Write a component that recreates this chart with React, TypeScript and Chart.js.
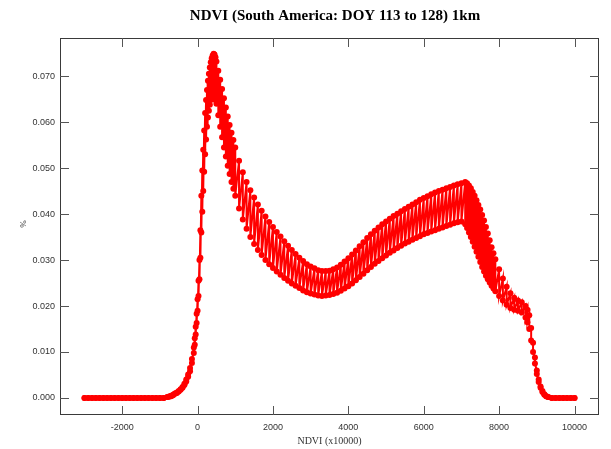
import { useEffect, useRef } from "react";
import { Chart, registerables } from "chart.js";

Chart.register(...registerables);

const TITLE = "NDVI (South America: DOY 113 to 128) 1km";
const X_LABEL = "NDVI (x10000)";
const Y_LABEL = "%";
const X_TICKS = [-2000, 0, 2000, 4000, 6000, 8000, 10000];
const Y_TICKS = [0, 0.01, 0.02, 0.03, 0.04, 0.05, 0.06, 0.07];

const ndvi = [
  -3000, -2900, -2800, -2700, -2600, -2500, -2400, -2300, -2200, -2100,
  -2000, -1900, -1800, -1700, -1600, -1500, -1400, -1300, -1200, -1100,
  -1000, -900,
  -800, -750, -700, -650, -600, -550, -500, -450, -400, -350,
  -300, -250, -200, -150, -100, -75, -50, -25, 0, 25,
  50, 75, 100, 125, 150, 175, 200, 225, 250, 275,
  300, 325, 350, 375, 400, 425, 450, 475, 500, 550,
  600, 650, 700, 750, 800, 850, 900, 950, 1000, 1100,
  1200, 1300, 1400, 1500, 1600, 1700, 1800, 1900, 2000, 2100,
  2200, 2300, 2400, 2500, 2600, 2700, 2800, 2900, 3000, 3100,
  3200, 3300, 3400, 3500, 3600, 3700, 3800, 3900, 4000, 4100,
  4200, 4300, 4400, 4500, 4600, 4700, 4800, 4900, 5000, 5100,
  5200, 5300, 5400, 5500, 5600, 5700, 5800, 5900, 6000, 6100,
  6200, 6300, 6400, 6500, 6600, 6700, 6800, 6900, 7000, 7100,
  7150, 7200, 7250, 7300, 7350, 7400, 7450, 7500, 7550, 7600,
  7650, 7700, 7750, 7800, 7850, 7900, 8000, 8100, 8200, 8300,
  8400, 8500, 8600, 8700, 8750, 8800, 8850, 8900, 8950, 9000,
  9050, 9100, 9150, 9200, 9250, 9300, 9400, 9500, 9600, 9700,
  9800, 9900, 10000,
];

const pctUpper = [
  0, 0, 0, 0, 0, 0, 0, 0, 0, 0,
  0, 0, 0, 0, 0, 0, 0, 0, 0, 0,
  0, 0,
  0.0002, 0.0003, 0.0005, 0.0007, 0.001, 0.0012, 0.0015, 0.0019, 0.0024, 0.0031,
  0.004, 0.0051, 0.0065, 0.0085, 0.011, 0.013, 0.0155, 0.0183, 0.0215, 0.0255,
  0.03, 0.0365, 0.044, 0.0495, 0.054, 0.0582, 0.062, 0.0648, 0.067, 0.069,
  0.0705, 0.0719, 0.073, 0.0739, 0.0745, 0.0749, 0.0747, 0.0741, 0.0732, 0.0712,
  0.0692, 0.0672, 0.0652, 0.0632, 0.0612, 0.0594, 0.0577, 0.0561, 0.0545, 0.0516,
  0.0491, 0.047, 0.0452, 0.0436, 0.0421, 0.0407, 0.0395, 0.0383, 0.0372, 0.0361,
  0.0351, 0.0341, 0.0331, 0.0322, 0.0313, 0.0305, 0.0298, 0.0291, 0.0286, 0.0282,
  0.0278, 0.0276, 0.0276, 0.0277, 0.028, 0.0284, 0.029, 0.0297, 0.0304, 0.0312,
  0.0321, 0.033, 0.0339, 0.0348, 0.0356, 0.0364, 0.0371, 0.0378, 0.0384, 0.039,
  0.0396, 0.0401, 0.0406, 0.0411, 0.0416, 0.0421, 0.0426, 0.0431, 0.0435, 0.0439,
  0.0443, 0.0447, 0.045, 0.0453, 0.0456, 0.0459, 0.0462, 0.0465, 0.0467, 0.047,
  0.0467, 0.0462, 0.0456, 0.0448, 0.044, 0.043, 0.042, 0.041, 0.0398, 0.0386,
  0.0372, 0.0358, 0.0343, 0.0328, 0.0315, 0.0302, 0.028, 0.026, 0.0242, 0.0228,
  0.0218, 0.0212, 0.0208, 0.02, 0.0192, 0.018, 0.0152, 0.012, 0.0088, 0.006,
  0.004, 0.0025, 0.0015, 0.0008, 0.0004, 0.0002, 0, 0, 0, 0,
  0, 0, 0,
];

const pctLower = [
  0, 0, 0, 0, 0, 0, 0, 0, 0, 0,
  0, 0, 0, 0, 0, 0, 0, 0, 0, 0,
  0, 0,
  0.0002, 0.0003, 0.0004, 0.0006, 0.0009, 0.0011, 0.0014, 0.0018, 0.0022, 0.0028,
  0.0036, 0.0046, 0.0058, 0.0076, 0.0098, 0.0116, 0.0138, 0.0163, 0.019, 0.0222,
  0.0258, 0.0305, 0.036, 0.0405, 0.045, 0.0492, 0.053, 0.0562, 0.059, 0.061,
  0.0625, 0.0638, 0.0648, 0.0654, 0.0658, 0.0658, 0.0655, 0.0648, 0.064, 0.0615,
  0.059, 0.0567, 0.0545, 0.0525, 0.0505, 0.0487, 0.047, 0.0455, 0.044, 0.0412,
  0.0388, 0.0368, 0.035, 0.0335, 0.0322, 0.0311, 0.03, 0.0291, 0.0283, 0.0275,
  0.0268, 0.0261, 0.0255, 0.0249, 0.0244, 0.0239, 0.0234, 0.023, 0.0227, 0.0225,
  0.0223, 0.0222, 0.0223, 0.0224, 0.0226, 0.0229, 0.0233, 0.0238, 0.0243, 0.0249,
  0.0256, 0.0263, 0.027, 0.0278, 0.0285, 0.0292, 0.0298, 0.0304, 0.031, 0.0316,
  0.0321, 0.0326, 0.0331, 0.0336, 0.034, 0.0344, 0.0348, 0.0352, 0.0356, 0.0359,
  0.0362, 0.0365, 0.0368, 0.0371, 0.0374, 0.0377, 0.038, 0.0382, 0.0384, 0.0378,
  0.037, 0.036, 0.035, 0.034, 0.0329, 0.0318, 0.0307, 0.0296, 0.0285, 0.0275,
  0.0266, 0.0258, 0.0251, 0.0244, 0.0238, 0.0232, 0.0222, 0.0212, 0.0203, 0.0196,
  0.0192, 0.019, 0.0186, 0.0175, 0.0165, 0.015, 0.0125, 0.01, 0.0075, 0.0052,
  0.0035, 0.0022, 0.0013, 0.0007, 0.0004, 0.0002, 0, 0, 0, 0,
  0, 0, 0,
];

const decorPlugin = {
  id: "decor",
  afterDraw(chart: any) {
    const { ctx, chartArea: a, scales } = chart;
    const xs = scales.x;
    const ys = scales.y;
    ctx.save();
    ctx.strokeStyle = "#3a3a3a";
    ctx.lineWidth = 1;
    ctx.strokeRect(a.left + 0.5, a.top + 0.5, a.right - a.left - 1, a.bottom - a.top - 1);
    ctx.strokeStyle = "#555";
    ctx.beginPath();
    X_TICKS.forEach((v) => {
      const px = Math.round(xs.getPixelForValue(v)) + 0.5;
      ctx.moveTo(px, a.bottom);
      ctx.lineTo(px, a.bottom - 9);
      ctx.moveTo(px, a.top);
      ctx.lineTo(px, a.top + 9);
    });
    Y_TICKS.forEach((v) => {
      const py = Math.round(ys.getPixelForValue(v)) + 0.5;
      ctx.moveTo(a.left, py);
      ctx.lineTo(a.left + 9, py);
      ctx.moveTo(a.right, py);
      ctx.lineTo(a.right - 9, py);
    });
    ctx.stroke();
    ctx.fillStyle = "#000";
    ctx.textAlign = "center";
    ctx.textBaseline = "middle";
    ctx.font = "bold 15px 'Liberation Serif', 'Times New Roman', serif";
    ctx.fillText(TITLE, 335, 16);
    ctx.font = "10px 'Liberation Serif', 'Times New Roman', serif";
    ctx.fillStyle = "#333";
    ctx.fillText(X_LABEL, (a.left + a.right) / 2, 441);
    ctx.translate(24, 224);
    ctx.rotate(-Math.PI / 2);
    ctx.font = "9px 'Liberation Serif', serif";
    ctx.fillText(Y_LABEL, 0, 0);
    ctx.restore();
  },
};

export default function App() {
  const ref = useRef<HTMLCanvasElement | null>(null);
  useEffect(() => {
    if (!ref.current) return;
    const pts: { x: number; y: number }[] = [];
    ndvi.forEach((x, i) => {
      pts.push({ x, y: pctUpper[i] });
      pts.push({ x, y: pctLower[i] });
    });
    const tickFont = { family: "'Liberation Sans', Arial, sans-serif", size: 9 };
    const chart = new Chart(ref.current, {
      type: "line",
      data: {
        datasets: [
          {
            data: pts,
            borderColor: "#ff0000",
            borderWidth: 2,
            backgroundColor: "#ff0000",
            pointRadius: 3,
            pointBorderWidth: 0,
            pointBackgroundColor: "#ff0000",
            tension: 0,
            fill: false,
          },
        ],
      },
      options: {
        responsive: false,
        animation: false,
        events: [],
        layout: { padding: { left: 0, top: 38, right: 12, bottom: 0 } },
        plugins: { legend: { display: false }, title: { display: false }, tooltip: { enabled: false } },
        scales: {
          x: {
            type: "linear",
            min: -3650,
            max: 10650,
            afterBuildTicks: (s: any) => {
              s.ticks = X_TICKS.map((v) => ({ value: v }));
            },
            afterFit: (s: any) => {
              s.height = 34;
            },
            grid: { display: false, drawTicks: false, tickLength: 0 },
            border: { display: false },
            ticks: {
              padding: 7,
              color: "#333",
              font: tickFont,
              maxRotation: 0,
              autoSkip: false,
              callback: (v: any) => String(v),
            },
          },
          y: {
            type: "linear",
            min: -0.0037,
            max: 0.0783,
            afterBuildTicks: (s: any) => {
              s.ticks = Y_TICKS.map((v) => ({ value: v }));
            },
            afterFit: (s: any) => {
              s.width = 60;
            },
            grid: { display: false, drawTicks: false, tickLength: 0 },
            border: { display: false },
            ticks: {
              padding: 5,
              color: "#333",
              font: tickFont,
              autoSkip: false,
              callback: (v: any) => Number(v).toFixed(3),
            },
          },
        },
      },
      plugins: [decorPlugin],
    });
    return () => chart.destroy();
  }, []);
  return (
    <div style={{ position: "fixed", left: 0, top: 0, width: 611, height: 449, background: "#fff" }}>
      <canvas ref={ref} width={611} height={449} style={{ display: "block" }} />
    </div>
  );
}
